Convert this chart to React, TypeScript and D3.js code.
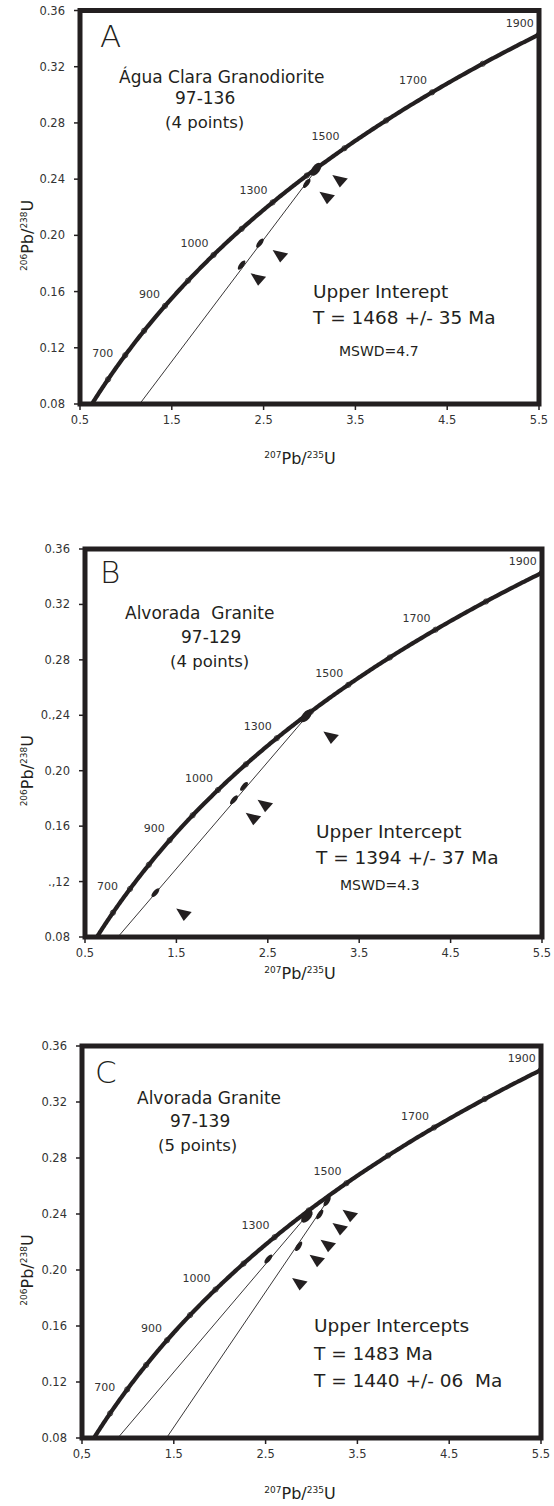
import React from 'react';
import * as d3 from 'd3';

// decay constants (per year)
const L238 = 1.55125e-10;
const L235 = 9.8485e-10;

const xTicks = [0.5, 1.5, 2.5, 3.5, 4.5, 5.5];
const yTicks = [0.08, 0.12, 0.16, 0.2, 0.24, 0.28, 0.32, 0.36];
const xTickLabels = ['0.5', '1.5', '2.5', '3.5', '4.5', '5.5'];
const xTickLabelsC = ['0,5', '1.5', '2.5', '3.5', '4.5', '5.5'];
const yTickLabels = ['0.08', '0.12', '0.16', '0.20', '0.24', '0.28', '0.32', '0.36'];
const yTickLabelsB = ['0.08', '.,12', '0.16', '0.20', '0.,24', '0.28', '0.32', '0.36'];

// concordia age marks (Ma) and the labels written next to them
const concordiaAges = [600, 700, 800, 900, 1000, 1100, 1200, 1300, 1400, 1500, 1600, 1700, 1800, 1900];
const ageLabels = ['700', '900', '1000', '1300', '1500', '1700', '1900'];
const ageLabelAt = [660, 900, 1100, 1300, 1500, 1700, 1900];

// panel A - 97-136
const ellipsesA = [
  { x: 3.07, y: 0.247, big: true },
  { x: 2.97, y: 0.237, big: false },
  { x: 2.46, y: 0.1945, big: false },
  { x: 2.26, y: 0.1789, big: false },
];
const trianglesA = [[3.33, 0.2394], [3.19, 0.2275], [2.68, 0.186], [2.44, 0.1694]];
const discordiaA = [[[1.15, 0.08], [3.1, 0.249]]];

// panel B - 97-129
const ellipsesB = [
  { x: 2.92, y: 0.2395, big: true },
  { x: 2.24, y: 0.1887, big: false },
  { x: 2.13, y: 0.179, big: false },
  { x: 1.27, y: 0.112, big: false },
];
const trianglesB = [[3.19, 0.2247], [2.47, 0.1755], [2.34, 0.166], [1.58, 0.097]];
const discordiaB = [[[0.86, 0.08], [2.93, 0.2395]]];

// panel C - 97-139
const ellipsesC = [
  { x: 2.95, y: 0.2383, big: true },
  { x: 3.17, y: 0.249, big: false },
  { x: 3.09, y: 0.2397, big: false },
  { x: 2.86, y: 0.2169, big: false },
  { x: 2.53, y: 0.2079, big: false },
];
const trianglesC = [[3.42, 0.2395], [3.31, 0.23], [3.18, 0.218], [3.06, 0.2074], [2.87, 0.1907]];
const discordiaC = [
  [[0.89, 0.08], [2.97, 0.2405]],
  [[1.42, 0.08], [3.2, 0.252]],
];

const INK = '#231f20';
const FONT = '"DejaVu Sans", sans-serif';

type Txt = { t: string; x: number; y: number; size: number; light?: boolean };

const panels = [
  {
    key: 'A',
    frame: { left: 80, right: 539, top: 10.5, bottom: 404 },
    titleY: 464,
    yLabels: yTickLabels,
    xLabels: xTickLabels,
    ellipses: ellipsesA,
    triangles: trianglesA,
    discordia: discordiaA,
    texts: [
      { t: 'A', x: 20, y: 36.5, size: 31, light: true },
      { t: 'Água Clara Granodiorite', x: 39, y: 72.5, size: 17 },
      { t: '97-136', x: 95, y: 93.5, size: 17 },
      { t: '(4 points)', x: 85, y: 117.5, size: 16.5 },
      { t: 'Upper Interept', x: 233, y: 287, size: 18.5 },
      { t: 'T = 1468 +/- 35 Ma', x: 233, y: 313.5, size: 18.5 },
      { t: 'MSWD=4.7', x: 259, y: 345.5, size: 14 },
    ] as Txt[],
  },
  {
    key: 'B',
    frame: { left: 85, right: 542, top: 549, bottom: 937 },
    titleY: 979,
    yLabels: yTickLabelsB,
    xLabels: xTickLabels,
    ellipses: ellipsesB,
    triangles: trianglesB,
    discordia: discordiaB,
    texts: [
      { t: 'B', x: 15, y: 34, size: 31, light: true },
      { t: 'Alvorada  Granite', x: 40, y: 70, size: 17 },
      { t: '97-129', x: 96, y: 94, size: 17 },
      { t: '(4 points)', x: 85, y: 118, size: 16.5 },
      { t: 'Upper Intercept', x: 231, y: 289, size: 18.5 },
      { t: 'T = 1394 +/- 37 Ma', x: 231, y: 315, size: 18.5 },
      { t: 'MSWD=4.3', x: 255, y: 341, size: 14 },
    ] as Txt[],
  },
  {
    key: 'C',
    frame: { left: 82, right: 541, top: 1046, bottom: 1438 },
    titleY: 1499,
    yLabels: yTickLabels,
    xLabels: xTickLabelsC,
    ellipses: ellipsesC,
    triangles: trianglesC,
    discordia: discordiaC,
    texts: [
      { t: 'C', x: 13, y: 37, size: 31, light: true },
      { t: 'Alvorada Granite', x: 55, y: 57.7, size: 17 },
      { t: '97-139', x: 88, y: 80.7, size: 17 },
      { t: '(5 points)', x: 76, y: 104.7, size: 16.5 },
      { t: 'Upper Intercepts', x: 232, y: 286, size: 18.5 },
      { t: 'T = 1483 Ma', x: 232, y: 314, size: 18.5 },
      { t: 'T = 1440 +/- 06  Ma', x: 232, y: 341, size: 18.5 },
    ] as Txt[],
  },
];

const concordiaPoint = (age: number) => ({
  x: Math.exp(L235 * age * 1e6) - 1,
  y: Math.exp(L238 * age * 1e6) - 1,
});

const Panel = ({ p }: { p: (typeof panels)[number] }) => {
  const { left, right, top, bottom } = p.frame;
  const x = d3.scaleLinear().domain([0.5, 5.5]).range([left, right]);
  const y = d3.scaleLinear().domain([0.08, 0.36]).range([bottom, top]);

  const curveAges = d3.range(470, 1925, 5);
  const line = d3
    .line<number>()
    .x((a) => x(concordiaPoint(a).x))
    .y((a) => y(concordiaPoint(a).y))
    .curve(d3.curveMonotoneX);

  const clipId = `clip-${p.key}`;

  const angleOf = (seg: number[][]) => {
    const dx = x(seg[1][0]) - x(seg[0][0]);
    const dy = y(seg[1][1]) - y(seg[0][1]);
    return (Math.atan2(dy, dx) * 180) / Math.PI;
  };
  const nearestSeg = (px: number, py: number) => {
    let best = p.discordia[0];
    let bestD = Infinity;
    p.discordia.forEach((s) => {
      const slope = (s[1][1] - s[0][1]) / (s[1][0] - s[0][0]);
      const d = Math.abs(s[0][1] + slope * (px - s[0][0]) - py);
      if (d < bestD) {
        bestD = d;
        best = s;
      }
    });
    return best;
  };

  const midY = y(0.2);

  return (
    <g>
      <defs>
        <clipPath id={clipId}>
          <rect x={left} y={top} width={right - left} height={bottom - top} />
        </clipPath>
      </defs>

      <g clipPath={`url(#${clipId})`}>
        {p.discordia.map((s, i) => (
          <line
            key={i}
            x1={x(s[0][0])}
            y1={y(s[0][1])}
            x2={x(s[1][0])}
            y2={y(s[1][1])}
            stroke={INK}
            strokeWidth={0.9}
          />
        ))}
        <path d={line(curveAges) || ''} fill="none" stroke={INK} strokeWidth={4.2} />
        {concordiaAges.map((a) => {
          const c = concordiaPoint(a);
          return (
            <circle key={a} cx={x(c.x)} cy={y(c.y)} r={2.6} fill="none" stroke={INK} strokeWidth={0.8} />
          );
        })}
        {p.ellipses.map((e, i) => (
          <ellipse
            key={i}
            cx={x(e.x)}
            cy={y(e.y)}
            rx={e.big ? 7.5 : 5.5}
            ry={e.big ? 4 : 2.3}
            transform={`rotate(${angleOf(nearestSeg(e.x, e.y))} ${x(e.x)} ${y(e.y)})`}
            fill={INK}
          />
        ))}
        {p.triangles.map((t, i) => (
          <path
            key={i}
            transform={`translate(${x(t[0])},${y(t[1])})`}
            d="M-7.5,-5 L8,-1.5 L0,7.5 Z"
            fill={INK}
          />
        ))}
      </g>

      {ageLabels.map((lab, i) => {
        const c = concordiaPoint(ageLabelAt[i]);
        return (
          <text
            key={lab}
            x={x(c.x) - 5}
            y={y(c.y) - 8}
            textAnchor="end"
            fontSize={11}
            fontFamily={FONT}
            fill="#333"
          >
            {lab}
          </text>
        );
      })}

      {yTicks.map((v) => (
        <line key={v} x1={left - 6} x2={left} y1={y(v)} y2={y(v)} stroke={INK} strokeWidth={1.5} />
      ))}
      {xTicks.map((v) => (
        <line key={v} x1={x(v)} x2={x(v)} y1={bottom} y2={bottom + 6} stroke={INK} strokeWidth={1.5} />
      ))}
      {yTicks.map((v, i) => (
        <text
          key={v}
          x={left - 15}
          y={y(v)}
          dy="0.35em"
          textAnchor="end"
          fontSize={11.5}
          fontFamily={FONT}
          fill="#333"
        >
          {p.yLabels[i]}
        </text>
      ))}
      {xTicks.map((v, i) => (
        <text
          key={v}
          x={x(v)}
          y={bottom + 20}
          textAnchor="middle"
          fontSize={11.5}
          fontFamily={FONT}
          fill="#333"
        >
          {p.xLabels[i]}
        </text>
      ))}

      <rect
        x={left}
        y={top}
        width={right - left}
        height={bottom - top}
        fill="none"
        stroke={INK}
        strokeWidth={5}
      />

      {p.texts.map((t, i) => (
        <text
          key={i}
          x={left + t.x}
          y={top + t.y}
          fontSize={t.size}
          fontFamily={FONT}
          fontWeight={t.light ? 200 : 400}
          fill={INK}
          style={{ whiteSpace: 'pre' }}
        >
          {t.t}
        </text>
      ))}

      <text
        transform={`translate(33,${midY}) rotate(-90)`}
        textAnchor="middle"
        fontFamily={FONT}
        fill={INK}
      >
        <tspan fontSize={9} dy={-6}>206</tspan>
        <tspan fontSize={16} dy={6}>Pb/</tspan>
        <tspan fontSize={9} dy={-6}>238</tspan>
        <tspan fontSize={16} dy={6}>U</tspan>
      </text>
      <text x={300} y={p.titleY} textAnchor="middle" fontFamily={FONT} fill={INK}>
        <tspan fontSize={9} dy={-6}>207</tspan>
        <tspan fontSize={16} dy={6}>Pb/</tspan>
        <tspan fontSize={9} dy={-6}>235</tspan>
        <tspan fontSize={16} dy={6}>U</tspan>
      </text>
    </g>
  );
};

export default function App() {
  return (
    <svg
      width={554}
      height={1506}
      style={{ position: 'absolute', left: 0, top: 0, background: '#fff' }}
    >
      <rect width={554} height={1506} fill="#fff" />
      {panels.map((p) => (
        <Panel key={p.key} p={p} />
      ))}
    </svg>
  );
}
